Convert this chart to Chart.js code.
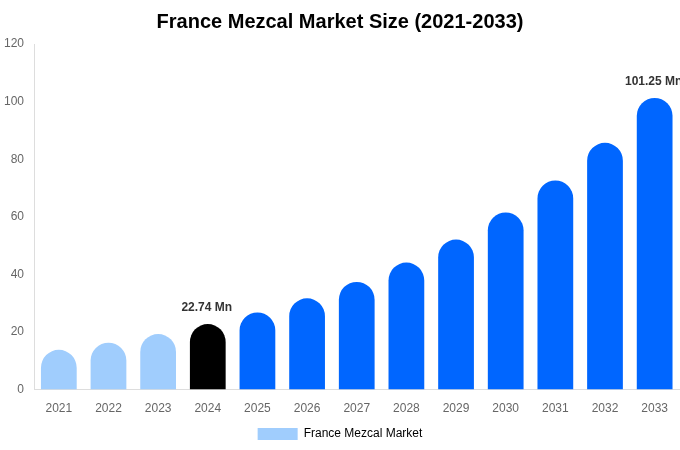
<!DOCTYPE html>
<html>
<head>
<meta charset="utf-8">
<script src="https://cdn.jsdelivr.net/npm/chart.js@4.4.0/dist/chart.umd.min.js"></script>
<style>
html,body{margin:0;padding:0;background:#fff;}
#wrap{width:680px;height:450px;position:relative;}
</style>
</head>
<body>
<div id="wrap"><canvas id="c" width="680" height="450"></canvas></div>
<script>
const categories = ["2021","2022","2023","2024","2025","2026","2027","2028","2029","2030","2031","2032","2033"];
const values = [13.8, 16.3, 19.3, 22.74, 26.8, 31.7, 37.4, 44.1, 52.1, 61.5, 72.6, 85.7, 101.25];
const barColors = ["#a0cdfd","#a0cdfd","#a0cdfd","#000000","#0066ff","#0066ff","#0066ff","#0066ff","#0066ff","#0066ff","#0066ff","#0066ff","#0066ff"];
const labelShown = {"2024":"22.74 Mn","2033":"101.25 Mn"};
const yTicks = [0,20,40,60,80,100,120];

const labelPlugin = {
  id: 'valLabels',
  afterDatasetsDraw(chart) {
    const ctx = chart.ctx;
    const meta = chart.getDatasetMeta(0);
    ctx.save();
    ctx.font = 'bold 12px "Liberation Sans", Arial, sans-serif';
    ctx.fillStyle = '#333333';
    ctx.textAlign = 'center';
    ctx.textBaseline = 'bottom';
    meta.data.forEach((el, i) => {
      const t = labelShown[categories[i]];
      if (t) ctx.fillText(t, el.x - 1, el.y - 10);
    });
    ctx.restore();
  }
};

new Chart(document.getElementById('c'), {
  type: 'bar',
  data: {
    labels: categories,
    datasets: [{
      label: 'France Mezcal Market',
      data: values,
      backgroundColor: barColors,
      borderRadius: {topLeft: 100, topRight: 100, bottomLeft: 0, bottomRight: 0},
      borderSkipped: 'bottom',
      categoryPercentage: 0.9,
      barPercentage: 0.8
    }]
  },
  options: {
    responsive: false,
    animation: false,
    layout: {padding: {left: 0, right: 0, top: 0, bottom: 0}},
    plugins: {
      title: {
        display: true,
        text: 'France Mezcal Market Size (2021-2033)',
        color: '#000',
        font: {family: '"Liberation Sans", Arial, sans-serif', size: 20, weight: 'bold'},
        padding: {top: 10, bottom: 10}
      },
      legend: {
        position: 'bottom',
        labels: {
          boxWidth: 40,
          boxHeight: 12,
          color: '#666',
          font: {family: '"Liberation Sans", Arial, sans-serif', size: 12},
          generateLabels: () => [{text: 'France Mezcal Market', fillStyle: '#a0cdfd', strokeStyle: '#a0cdfd', lineWidth: 0, hidden: false, datasetIndex: 0}]
        }
      },
      tooltip: {enabled: false}
    },
    scales: {
      x: {
        grid: {display: false, drawTicks: false},
        border: {display: true, color: '#dddddd'},
        afterFit: (axis) => { axis.height = axis.height - 10; },
        ticks: {color: '#666', padding: 12, font: {family: '"Liberation Sans", Arial, sans-serif', size: 12}}
      },
      y: {
        min: 0, max: 120,
        afterBuildTicks: (axis) => { axis.ticks = yTicks.map(v => ({value: v})); },
        afterFit: (axis) => { axis.width = 34; },
        grid: {display: false, drawTicks: false},
        border: {display: true, color: '#dddddd'},
        ticks: {color: '#666', padding: 10, font: {family: '"Liberation Sans", Arial, sans-serif', size: 12}}
      }
    }
  },
  plugins: [labelPlugin]
});
</script>
</body>
</html>
